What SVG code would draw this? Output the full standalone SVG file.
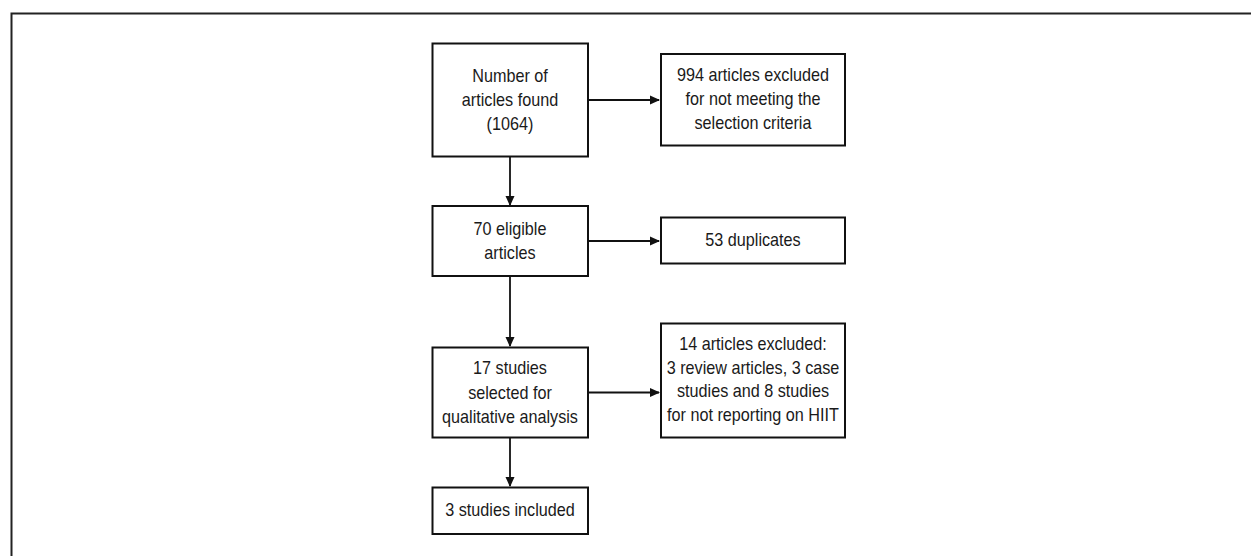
<svg xmlns="http://www.w3.org/2000/svg" width="1251" height="556" viewBox="0 0 1251 556">
<style>
.box{fill:#fff;stroke:#111;stroke-width:2}
.t{font-family:"Liberation Sans",Arial,sans-serif;font-size:18px;fill:#1a1a1a;text-anchor:middle}
.c{stroke:#111;stroke-width:1.8;fill:none}
.frame{stroke:#222;stroke-width:2;fill:none}
</style>
<defs>
<marker id="ah" markerWidth="10" markerHeight="10" refX="9" refY="5" orient="auto" markerUnits="userSpaceOnUse">
<path d="M0,0.5 L10,5 L0,9.5 Z" fill="#111"/>
</marker>
</defs>
<rect width="1251" height="556" fill="#fff"/>
<path class="frame" d="M11.5,556 V13.5 H1251"/>
<g id="connectors">
<line class="c" x1="510" y1="157" x2="510" y2="205" marker-end="url(#ah)"/>
<line class="c" x1="510" y1="276" x2="510" y2="346" marker-end="url(#ah)"/>
<line class="c" x1="510" y1="438" x2="510" y2="486" marker-end="url(#ah)"/>
<line class="c" x1="588" y1="100" x2="659" y2="100" marker-end="url(#ah)"/>
<line class="c" x1="588" y1="241" x2="659" y2="241" marker-end="url(#ah)"/>
<line class="c" x1="588" y1="392.5" x2="659" y2="392.5" marker-end="url(#ah)"/>
</g>
<g id="n1">
<rect class="box" x="432.5" y="43.5" width="155.5" height="113"/>
<text class="t" transform="translate(510,82) scale(0.9,1)">Number of</text>
<text class="t" transform="translate(510,106) scale(0.9,1)">articles found</text>
<text class="t" transform="translate(510,130) scale(0.9,1)">(1064)</text>
</g>
<g id="n2">
<rect class="box" x="661" y="54" width="184" height="91.5"/>
<text class="t" transform="translate(753,81) scale(0.9,1)">994 articles excluded</text>
<text class="t" transform="translate(753,105) scale(0.9,1)">for not meeting the</text>
<text class="t" transform="translate(753,129) scale(0.9,1)">selection criteria</text>
</g>
<g id="n3">
<rect class="box" x="432.5" y="206" width="155.5" height="70"/>
<text class="t" transform="translate(510,235) scale(0.9,1)">70 eligible</text>
<text class="t" transform="translate(510,259) scale(0.9,1)">articles</text>
</g>
<g id="n4">
<rect class="box" x="661" y="217.5" width="184" height="46"/>
<text class="t" transform="translate(753,246) scale(0.9,1)">53 duplicates</text>
</g>
<g id="n5">
<rect class="box" x="432.5" y="347.5" width="155.5" height="90"/>
<text class="t" transform="translate(510,374) scale(0.9,1)">17 studies</text>
<text class="t" transform="translate(510,398.5) scale(0.9,1)">selected for</text>
<text class="t" transform="translate(510,422.5) scale(0.9,1)">qualitative analysis</text>
</g>
<g id="n6">
<rect class="box" x="661" y="323.5" width="184" height="114"/>
<text class="t" transform="translate(753,350) scale(0.9,1)">14 articles excluded:</text>
<text class="t" transform="translate(753,374) scale(0.9,1)">3 review articles, 3 case</text>
<text class="t" transform="translate(753,397) scale(0.9,1)">studies and 8 studies</text>
<text class="t" transform="translate(753,421) scale(0.9,1)">for not reporting on HIIT</text>
</g>
<g id="n7">
<rect class="box" x="432.5" y="487.5" width="155.5" height="46.5"/>
<text class="t" transform="translate(510,516) scale(0.9,1)">3 studies included</text>
</g>
</svg>
